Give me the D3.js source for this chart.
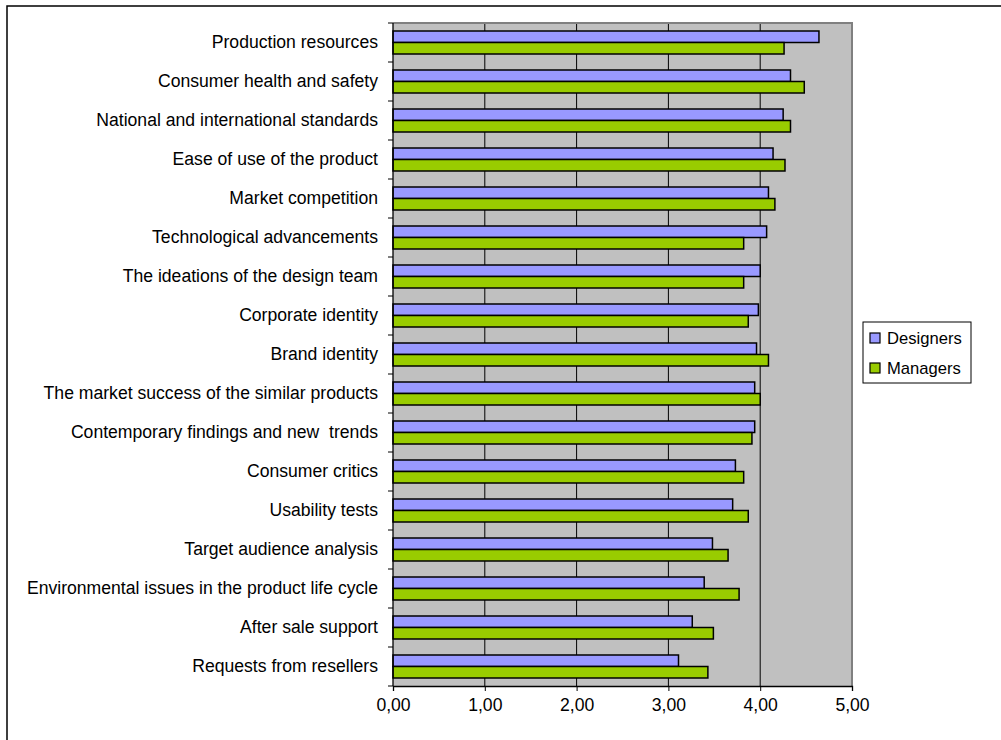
<!DOCTYPE html>
<html>
<head>
<meta charset="utf-8">
<script src="https://cdn.jsdelivr.net/npm/d3@7"></script>
<style>
  html, body { margin: 0; padding: 0; background: #fff; }
  svg { display: block; font-family: "Liberation Sans", Arial, sans-serif; }
  text { white-space: pre; }
</style>
</head>
<body>
<svg id="chart" width="1001" height="740"></svg>
<script>
// Factors influencing product design decisions, mean scores by respondent group
const categories = [
  "Production resources",
  "Consumer health and safety",
  "National and international standards",
  "Ease of use of the product",
  "Market competition",
  "Technological advancements",
  "The ideations of the design team",
  "Corporate identity",
  "Brand identity",
  "The market success of the similar products",
  "Contemporary findings and new  trends",
  "Consumer critics",
  "Usability tests",
  "Target audience analysis",
  "Environmental issues in the product life cycle",
  "After sale support",
  "Requests from resellers"
];
const designers = [4.64, 4.33, 4.25, 4.14, 4.09, 4.07, 4.00, 3.98, 3.96, 3.94, 3.94, 3.73, 3.70, 3.48, 3.39, 3.26, 3.11];
const managers  = [4.26, 4.48, 4.33, 4.27, 4.16, 3.82, 3.82, 3.87, 4.09, 4.00, 3.91, 3.82, 3.87, 3.65, 3.77, 3.49, 3.43];
const seriesNames = ["Designers", "Managers"];
const seriesColors = ["#9999FF", "#99CC00"];
const xTicks = [0, 1, 2, 3, 4, 5];

const svg = d3.select("#chart");
const plot = { left: 393, right: 852, top: 23, bottom: 686 };
const fontSize = 17.6;
const legendFontSize = 16.6;

// outer chart frame
svg.append("rect")
  .attr("x", 7).attr("y", 6).attr("width", 1200).attr("height", 1000)
  .attr("fill", "#fff").attr("stroke", "#000").attr("stroke-width", 1.5);

const x = d3.scaleLinear().domain([0, 5]).range([plot.left, plot.right]);
const y = d3.scaleBand().domain(categories).range([plot.top, plot.bottom]).paddingInner(0).paddingOuter(0);

// plot area background
svg.append("rect")
  .attr("x", plot.left).attr("y", plot.top)
  .attr("width", plot.right - plot.left).attr("height", plot.bottom - plot.top)
  .attr("fill", "#C0C0C0");

// vertical gridlines
svg.append("g").selectAll("line")
  .data(xTicks.filter(t => t > 0 && t < 5))
  .join("line")
  .attr("x1", d => x(d)).attr("x2", d => x(d))
  .attr("y1", plot.top).attr("y2", plot.bottom)
  .attr("stroke", "#000").attr("stroke-width", 1);

// plot area border (top/right)
svg.append("path")
  .attr("d", `M${plot.left},${plot.top}H${plot.right}V${plot.bottom}`)
  .attr("fill", "none").attr("stroke", "#808080").attr("stroke-width", 2);

// bars: two per category, stacked inside the band
const barH = 11.5;
const groups = svg.append("g").selectAll("g")
  .data(categories)
  .join("g")
  .attr("transform", d => `translate(0,${y(d)})`);

[designers, managers].forEach((vals, si) => {
  groups.append("rect")
    .attr("x", x(0))
    .attr("y", 8 + si * barH)
    .attr("width", (d, i) => x(vals[i]) - x(0))
    .attr("height", barH)
    .attr("fill", seriesColors[si])
    .attr("stroke", "#000")
    .attr("stroke-width", 1.5);
});

// x axis
const xAxis = d3.axisBottom(x)
  .tickValues(xTicks)
  .tickSize(5)
  .tickPadding(8)
  .tickFormat(d => d.toFixed(2).replace(".", ","));
const gx = svg.append("g")
  .attr("transform", `translate(0,${plot.bottom})`)
  .call(xAxis);
gx.select(".domain").attr("stroke", "#000").attr("stroke-width", 1.3);
gx.selectAll(".tick line").attr("stroke", "#000");
gx.selectAll(".tick text")
  .attr("fill", "#000").attr("font-size", fontSize)
  .attr("font-family", "Liberation Sans, Arial, sans-serif");

// y axis: labels centred in bands, ticks on band boundaries
const yAxis = d3.axisLeft(y).tickSize(0).tickPadding(15);
const gy = svg.append("g")
  .attr("transform", `translate(${plot.left},0)`)
  .call(yAxis);
gy.select(".domain").remove();
gy.selectAll(".tick text")
  .attr("fill", "#000").attr("font-size", fontSize)
  .attr("font-family", "Liberation Sans, Arial, sans-serif");

const boundaries = categories.map(c => y(c)).concat([plot.bottom]);
svg.append("g").selectAll("line")
  .data(boundaries)
  .join("line")
  .attr("x1", plot.left - 5).attr("x2", plot.left)
  .attr("y1", d => d).attr("y2", d => d)
  .attr("stroke", "#000").attr("stroke-width", 1);
svg.append("line")
  .attr("x1", plot.left).attr("x2", plot.left)
  .attr("y1", plot.top).attr("y2", plot.bottom)
  .attr("stroke", "#000").attr("stroke-width", 1.3);

// legend
const legend = svg.append("g").attr("transform", "translate(863,322)");
legend.append("rect")
  .attr("width", 108).attr("height", 61)
  .attr("fill", "#fff").attr("stroke", "#000").attr("stroke-width", 1);
const items = legend.selectAll("g.item")
  .data(seriesNames)
  .join("g")
  .attr("class", "item")
  .attr("transform", (d, i) => `translate(0,${16 + i * 30})`);
items.append("rect")
  .attr("x", 7).attr("y", -5).attr("width", 10).attr("height", 10)
  .attr("fill", (d, i) => seriesColors[i])
  .attr("stroke", "#000").attr("stroke-width", 1.2);
items.append("text")
  .attr("x", 24).attr("y", 0).attr("dy", "0.35em")
  .attr("font-size", legendFontSize).attr("fill", "#000")
  .text(d => d);
</script>
</body>
</html>
